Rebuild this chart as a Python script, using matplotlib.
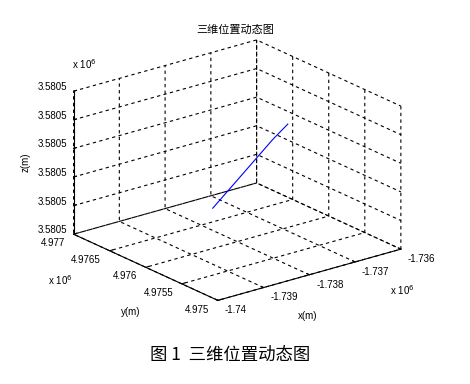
import matplotlib
matplotlib.use("Agg")
import matplotlib.pyplot as plt
from matplotlib.ticker import FuncFormatter

plt.rcParams['font.family'] = ['Liberation Sans', 'Noto Sans CJK SC', 'DejaVu Sans']

# trajectory (m)
x_pos = [-1738188, -1737950, -1737710, -1737480, -1737240, -1737008]
y_pos = [4976220, 4976162, 4976105, 4976045, 4975988, 4975928]
z_pos = [3580508, 3580512.5, 3580517, 3580521.5, 3580526, 3580530]

x_ticks = [-1740000, -1739000, -1738000, -1737000, -1736000]
y_ticks = [4975000, 4975500, 4976000, 4976500, 4977000]
z_ticks = [3580500, 3580508, 3580516, 3580524, 3580532, 3580540]

title = '三维位置动态图'
caption = '图 1  三维位置动态图'

fig = plt.figure(figsize=(4.7, 3.84), dpi=100)
ax = fig.add_axes([-0.005, 0.105, 1.0, 0.88], projection='3d', proj_type='ortho')
ax.view_init(elev=21, azim=-128)
ax.set_box_aspect((232, 234, 153), zoom=1.045)

ax.plot(x_pos, y_pos, z_pos, color='blue', linewidth=0.8)

ax.set_xlim(x_ticks[0], x_ticks[-1])
ax.set_ylim(y_ticks[0], y_ticks[-1])
ax.set_zlim(z_ticks[0], z_ticks[-1])
ax.set_xticks(x_ticks)
ax.set_yticks(y_ticks)
ax.set_zticks(z_ticks)

fmt_x = FuncFormatter(lambda v, p: '%g' % round(v / 1e6, 4))
fmt_z = FuncFormatter(lambda v, p: '%.4f' % (v / 1e6))
ax.xaxis.set_major_formatter(fmt_x)
ax.yaxis.set_major_formatter(fmt_x)
ax.zaxis.set_major_formatter(fmt_z)

for a in (ax.xaxis, ax.yaxis, ax.zaxis):
    a.set_pane_color((1, 1, 1, 1))
    a.pane.set_edgecolor('white')
    a._axinfo['grid'].update(color='black', linewidth=0.8, linestyle=(0, (3, 3)))
    a._axinfo['tick']['inward_factor'] = 0.0
    a._axinfo['tick']['outward_factor'] = 0.2
    a._axinfo['axisline']['linewidth'] = 0.9
    a.line.set_color('black')
ax.tick_params(labelsize=7)
ax.tick_params(axis='x', pad=-2)
ax.tick_params(axis='y', pad=-2)
ax.tick_params(axis='z', pad=0)

for t in ax.xaxis.get_major_ticks():
    t.label1.set_ha('left')
    t.label1.set_va('center')
for t in ax.yaxis.get_major_ticks():
    t.label1.set_ha('right')
    t.label1.set_va('center')
for t in ax.zaxis.get_major_ticks():
    t.label1.set_va('baseline')

# axis labels and MATLAB-style exponent notes
fs = 7
def put(xp, yp, s, **kw):
    fig.text(xp / 470, 1 - yp / 384, s, fontsize=fs, ha='center', va='center', **kw)

put(308, 316, 'x(m)')
put(131, 312, 'y(m)')
put(26, 162, 'z(m)', rotation=90)
put(84, 64, r'x 10$^{6}$')
put(60, 280, r'x 10$^{6}$')
put(402, 290, r'x 10$^{6}$')

fig.text(0.5, 1 - 30 / 384, title, ha='center', va='center', fontsize=8,
         family=['Noto Sans CJK SC', 'DejaVu Sans'])
fig.text(0.49, 1 - 355 / 384, caption, ha='center', va='center', fontsize=12.5,
         family=['Noto Sans CJK SC', 'DejaVu Sans'])

fig.savefig('out.png', dpi=100)
